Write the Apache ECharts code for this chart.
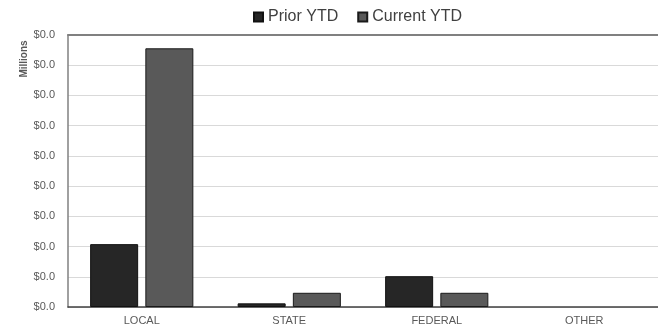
<!DOCTYPE html>
<html>
<head>
<meta charset="utf-8">
<style>
  html, body { margin: 0; padding: 0; background: #fff; }
  #chart { width: 658px; height: 330px; }
</style>
<script src="https://cdn.jsdelivr.net/npm/echarts@6/dist/echarts.min.js"></script>
</head>
<body>
<div id="chart"></div>
<script>
// Year-to-date revenue by source (dollars)
const categories = ['LOCAL', 'STATE', 'FEDERAL', 'OTHER'];
const priorYTD = [10400, 600, 5100, 0];
const currentYTD = [42800, 2350, 2350, 0];
const seriesNames = ['Prior YTD', 'Current YTD'];

// Zero amounts are left empty so no outline is drawn on the baseline
const asBars = arr => arr.map(v => (v === 0 ? null : v));

const chart = echarts.init(document.getElementById('chart'), null, { renderer: 'canvas' });

const font = 'Liberation Sans, Arial, sans-serif';

chart.setOption({
  animation: false,
  textStyle: { fontFamily: font },
  legend: {
    data: seriesNames,
    top: 4,
    left: 248,
    itemWidth: 9,
    itemHeight: 9,
    itemGap: 19,
    icon: 'rect',
    textStyle: { fontSize: 16, color: '#404040', fontFamily: font }
  },
  grid: { left: 68, right: 0, top: 35, bottom: 23 },
  graphic: [{
    type: 'text',
    x: 24,
    y: 59,
    rotation: Math.PI / 2,
    style: {
      text: 'Millions',
      font: 'bold 10px ' + font,
      fill: '#595959',
      textAlign: 'center',
      textVerticalAlign: 'middle'
    }
  }],
  xAxis: [{
    type: 'category',
    data: categories,
    axisLine: { lineStyle: { color: '#404040', width: 1.5 } },
    axisTick: { show: false },
    axisLabel: { color: '#595959', fontSize: 11, margin: 8, fontFamily: font }
  }, {
    type: 'category',
    data: categories,
    position: 'top',
    axisLine: { lineStyle: { color: '#808080', width: 2 } },
    axisTick: { show: false },
    axisLabel: { show: false }
  }],
  yAxis: {
    type: 'value',
    min: 0,
    max: 45000,
    interval: 5000,
    axisLine: { show: true, lineStyle: { color: '#808080', width: 1.5 } },
    axisTick: { show: false },
    splitLine: { lineStyle: { color: '#d9d9d9', width: 1 } },
    axisLabel: {
      color: '#595959',
      fontSize: 11,
      margin: 13,
      fontFamily: font,
      formatter: v => '$' + (v / 1e6).toFixed(1)
    }
  },
  series: [{
    name: seriesNames[0],
    type: 'bar',
    data: asBars(priorYTD),
    barWidth: 48,
    barGap: '15%',
    itemStyle: { color: '#262626', borderColor: '#111', borderWidth: 1 }
  }, {
    name: seriesNames[1],
    type: 'bar',
    data: asBars(currentYTD),
    barWidth: 48,
    barGap: '15%',
    itemStyle: { color: '#595959', borderColor: '#1a1a1a', borderWidth: 1 }
  }]
});
</script>
</body>
</html>
